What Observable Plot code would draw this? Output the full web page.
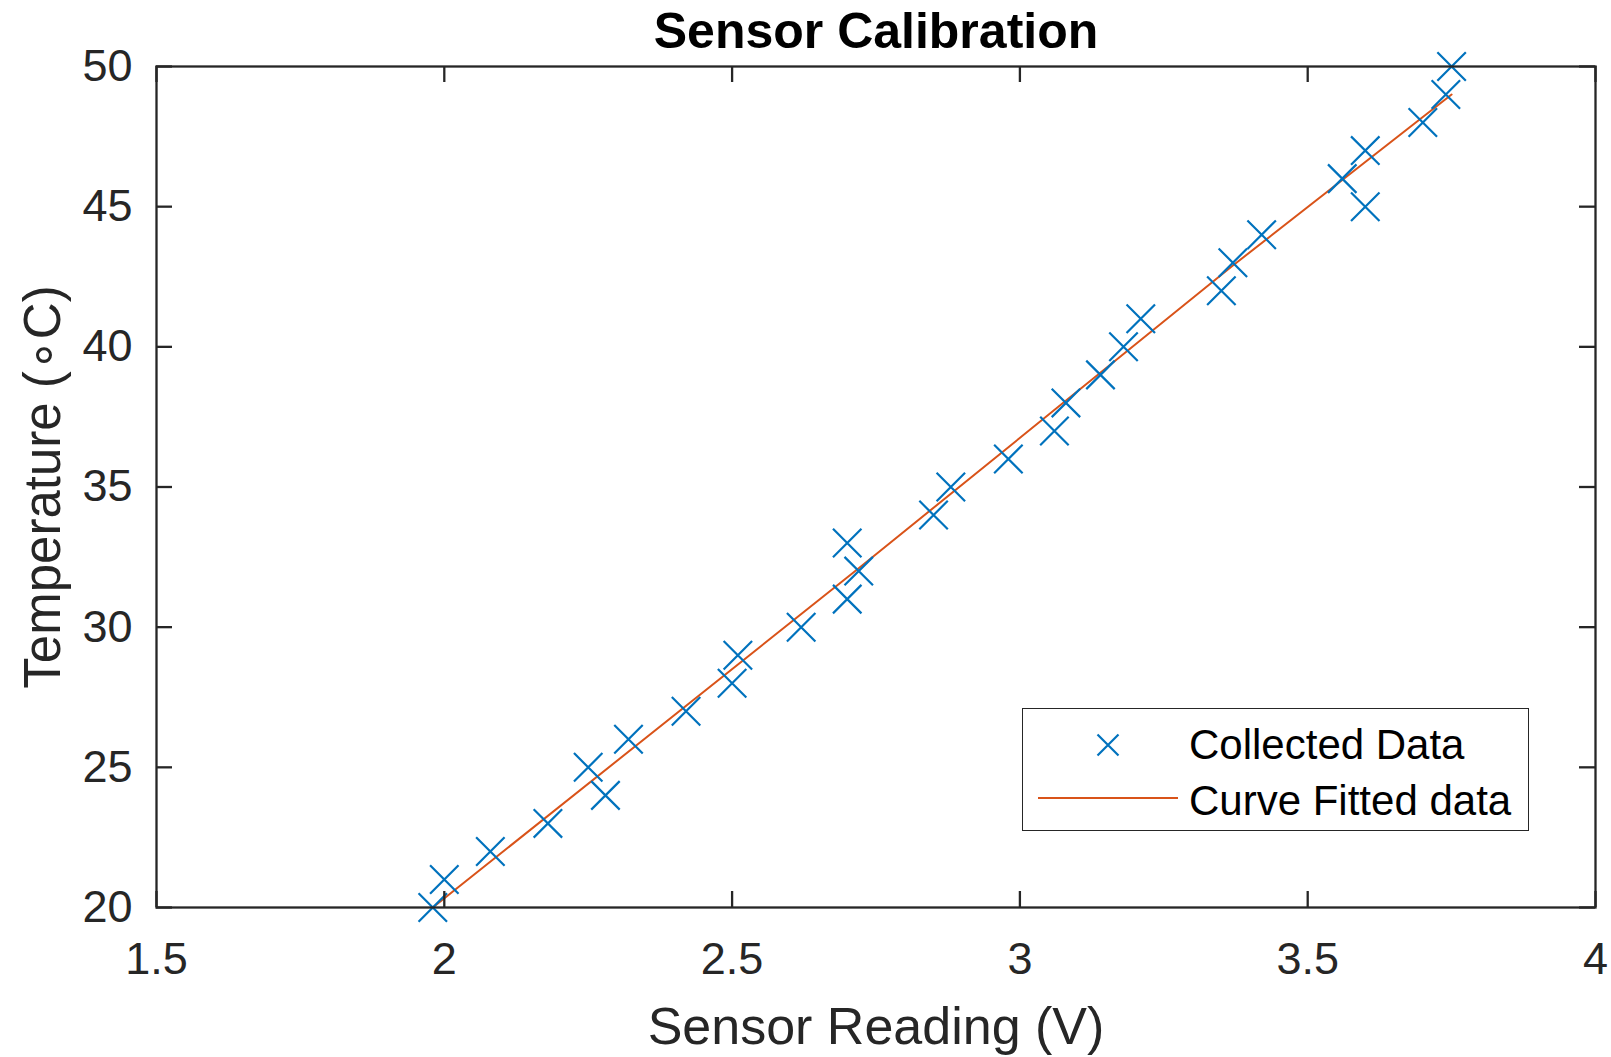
<!DOCTYPE html>
<html>
<head>
<meta charset="utf-8">
<script src="https://cdn.jsdelivr.net/npm/d3@7"></script>
<script src="https://cdn.jsdelivr.net/npm/@observablehq/plot@0.6"></script>
<style>
  html, body { margin: 0; padding: 0; background: #fff; }
  #wrap { position: relative; width: 1611px; height: 1057px; font-family: "Liberation Sans", Arial, Helvetica, sans-serif; }
  #legend { position: absolute; left: 1022px; top: 708px; width: 505px; height: 121px; border: 1.5px solid #262626; background: #fff; }
  #legend .row { position: absolute; left: 0; height: 50px; width: 100%; }
  #legend .lab { position: absolute; left: 166px; top: 0; line-height: 50px; font-size: 42px; color: #000; white-space: nowrap; }
  #legend svg { position: absolute; left: 0; top: 0; }
</style>
</head>
<body>
<div id="wrap">
  <div id="chart"></div>
  <div id="legend"></div>
</div>
<script>
// ---- data ----
const temperature = [20,21,22,23,24,25,26,27,28,29,30,31,32,33,34,35,36,37,38,39,40,41,42,43,44,45,46,47,48,49,50];
const reading     = [1.98,2.00,2.08,2.18,2.28,2.25,2.32,2.42,2.50,2.51,2.62,2.70,2.72,2.70,2.85,2.88,2.98,3.06,3.08,3.14,3.18,3.21,3.35,3.37,3.42,3.60,3.56,3.60,3.70,3.74,3.75];
const fitReading  = [1.98, 2.72, 3.37, 3.75];
const fitTemp     = [20.0, 32.1, 42.9, 49.0];
const xTicks = [1.5, 2, 2.5, 3, 3.5, 4];
const yTicks = [20, 25, 30, 35, 40, 45, 50];
const seriesNames = ["Collected Data", "Curve Fitted data"];
const titleText = "Sensor Calibration";
const xLabel = "Sensor Reading (V)";
const yLabel = "Temperature (\u2218C)";

// ---- styles ----
const blue = "#0072BD", orange = "#D95319", axisColor = "#262626";
const W = 1611, H = 1057;
const mL = 156, mR = 16, mT = 66, mB = 150;
const fW = W - mL - mR, fH = H - mT - mB;
const tickLen = 16;
const font = "Liberation Sans, Arial, Helvetica, sans-serif";

const points = temperature.map((t, i) => ({x: reading[i], y: t}));
const fit = fitReading.map((x, i) => ({x, y: fitTemp[i]}));

const chart = Plot.plot({
  width: W, height: H,
  marginLeft: mL, marginRight: mR, marginTop: mT, marginBottom: mB,
  style: {fontFamily: font, background: "white", color: axisColor},
  x: {domain: [1.5, 4]},
  y: {domain: [20, 50]},
  marks: [
    Plot.line(fit, {x: "x", y: "y", stroke: orange, strokeWidth: 2}),
    Plot.dot(points, {x: "x", y: "y", symbol: "times", r: 13, stroke: blue, strokeWidth: 2.2}),
    Plot.frame({stroke: axisColor, strokeWidth: 2.3}),
    Plot.tickX(xTicks, {x: d => d, stroke: axisColor, strokeWidth: 2.3, insetTop: fH - tickLen}),
    Plot.tickX(xTicks, {x: d => d, stroke: axisColor, strokeWidth: 2.3, insetBottom: fH - tickLen}),
    Plot.tickY(yTicks, {y: d => d, stroke: axisColor, strokeWidth: 2.3, insetRight: fW - tickLen}),
    Plot.tickY(yTicks, {y: d => d, stroke: axisColor, strokeWidth: 2.3, insetLeft: fW - tickLen}),
    Plot.axisX({ticks: xTicks, tickSize: 0, tickPadding: 35, fontSize: 45, tickFormat: d => String(d), label: null}),
    Plot.axisY({ticks: yTicks, tickSize: 0, tickPadding: 24, fontSize: 45, tickFormat: d => String(d), label: null}),
    Plot.text([titleText], {text: d => d, frameAnchor: "top", lineAnchor: "middle", textAnchor: "middle", dy: -35, fontSize: 50, fontWeight: "bold", fill: "black"}),
    Plot.text([xLabel], {text: d => d, frameAnchor: "bottom", lineAnchor: "middle", textAnchor: "middle", dy: 120, fontSize: 52, fill: axisColor}),
    Plot.text([yLabel], {text: d => d, frameAnchor: "left", lineAnchor: "middle", textAnchor: "middle", dx: -113, rotate: -90, fontSize: 51, fill: axisColor})
  ]
});
document.getElementById("chart").appendChild(chart);

// ---- legend ----
const legend = document.getElementById("legend");
const rows = [
  {name: seriesNames[0], type: "marker", top: 11},
  {name: seriesNames[1], type: "line", top: 67}
];
rows.forEach(r => {
  const row = document.createElement("div");
  row.className = "row";
  row.style.top = r.top + "px";
  const ns = "http://www.w3.org/2000/svg";
  const svg = document.createElementNS(ns, "svg");
  svg.setAttribute("width", 165); svg.setAttribute("height", 50);
  if (r.type === "marker") {
    const p = document.createElementNS(ns, "path");
    p.setAttribute("d", "M74.5,14.5L95.5,35.5M74.5,35.5L95.5,14.5");
    p.setAttribute("stroke", blue); p.setAttribute("stroke-width", 2.2); p.setAttribute("fill", "none");
    svg.appendChild(p);
  } else {
    const l = document.createElementNS(ns, "line");
    l.setAttribute("x1", 15); l.setAttribute("x2", 155); l.setAttribute("y1", 22); l.setAttribute("y2", 22);
    l.setAttribute("stroke", orange); l.setAttribute("stroke-width", 2);
    svg.appendChild(l);
  }
  row.appendChild(svg);
  const lab = document.createElement("div");
  lab.className = "lab"; lab.textContent = r.name;
  row.appendChild(lab);
  legend.appendChild(row);
});
</script>
</body>
</html>
